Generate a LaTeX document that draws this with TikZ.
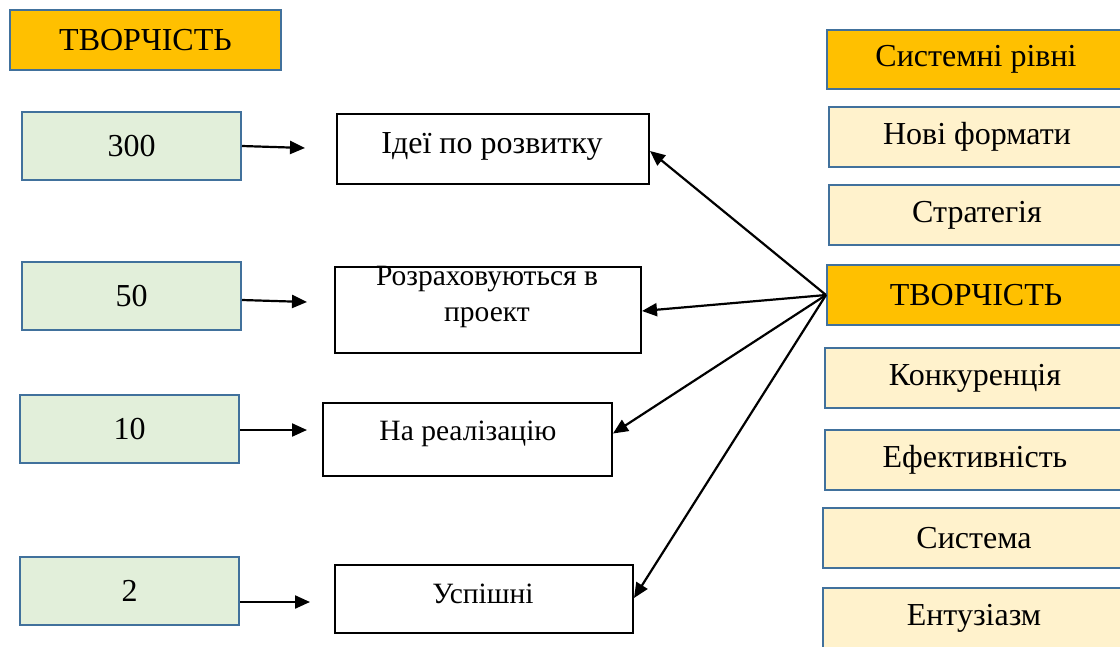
\documentclass[tikz,border=0pt]{standalone}
\usepackage{fontspec}
\setmainfont{Liberation Serif}
\usetikzlibrary{arrows.meta}
\definecolor{orng}{HTML}{FFC000}
\definecolor{grn}{HTML}{E2EFDA}
\definecolor{ylw}{HTML}{FFF2CC}
\definecolor{bord}{HTML}{41719C}
\tikzset{
  base/.style={rectangle, inner sep=0pt, font=\fontsize{32}{36}\selectfont},
  hot/.style={base, fill=orng, draw=bord, line width=2pt},
  greenbox/.style={base, fill=grn, draw=bord, line width=2pt, minimum width=219pt, minimum height=68pt},
  ylwbox/.style={base, fill=ylw, draw=bord, line width=2pt, minimum width=296pt, minimum height=60pt},
  whitebox/.style={base, fill=white, draw=black, line width=2pt},
  txt/.style={font=\fontsize{29.5}{36}\selectfont, align=center, inner sep=0pt},
  bigtxt/.style={txt, font=\fontsize{32}{36}\selectfont},
  arr/.style={line width=2.2pt, -{Triangle[length=15pt,width=13pt]}},
}
\begin{document}
\begin{tikzpicture}[x=1pt,y=-1pt]
\useasboundingbox (0,0) rectangle (1120,646);
\clip (0,0) rectangle (1120,646);
\fill[white] (0,0) rectangle (1120,646);
% title
\node[hot, minimum width=271pt, minimum height=60pt] (title) at (145.5,40) {ТВОРЧІСТЬ};
% green boxes
\node[greenbox] (g1) at (131.5,146) {300};
\node[greenbox] (g2) at (131.5,296) {50};
\node[greenbox] (g3) at (129.5,429) {10};
\node[greenbox] (g4) at (129.5,591) {2};
% white boxes
\node[whitebox, minimum width=312pt, minimum height=70pt] (w1) at (493,149) {};
\node[bigtxt] (t1) at (492,146) {Ідеї по розвитку};
\node[whitebox, minimum width=306pt, minimum height=86pt] (w2) at (488,310) {};
\node[txt] (t2) at (487,297) {Розраховуються в\\проект};
\node[whitebox, minimum width=289pt, minimum height=73pt] (w3) at (467.5,439.5) {};
\node[txt] (t3) at (468,434) {На реалізацію};
\node[whitebox, minimum width=298pt, minimum height=68pt] (w4) at (484,599) {};
\node[txt] (t4) at (483,594) {Успішні};
% right column
\node[hot, minimum width=298pt, minimum height=59pt] (r1) at (976,59.5) {Системні рівні};
\node[ylwbox] (r2) at (977,137) {Нові формати};
\node[ylwbox] (r3) at (977,215) {Стратегія};
\node[hot, minimum width=298pt, minimum height=60pt] (r4) at (976,295) {ТВОРЧІСТЬ};
\node[ylwbox, minimum width=300pt] (r5) at (975,378) {Конкуренція};
\node[ylwbox, minimum width=300pt] (r6) at (975,460) {Ефективність};
\node[ylwbox, minimum width=302pt] (r7) at (974,538) {Система};
\node[ylwbox, minimum width=302pt] (r8) at (974,618) {Ентузіазм};
% left arrows
\coordinate (e1) at (305,148);
\coordinate (e2) at (307,302);
\coordinate (e3) at (307,430);
\coordinate (e4) at (310,602);
\draw[arr] (g1.east) -- (e1);
\draw[arr] ([yshift=-4pt]g2.east) -- (e2);
\draw[arr] ([yshift=-1pt]g3.east) -- (e3);
\draw[arr] ([yshift=-11pt]g4.east) -- (e4);
% right arrows
\draw[arr] (r4.west) -- ([yshift=-2pt]w1.east);
\draw[arr] (r4.west) -- ([yshift=-1pt]w2.east);
\draw[arr] (r4.west) -- ([yshift=6pt]w3.east);
\draw[arr] (r4.west) -- ([yshift=1pt]w4.east);
\end{tikzpicture}
\end{document}
